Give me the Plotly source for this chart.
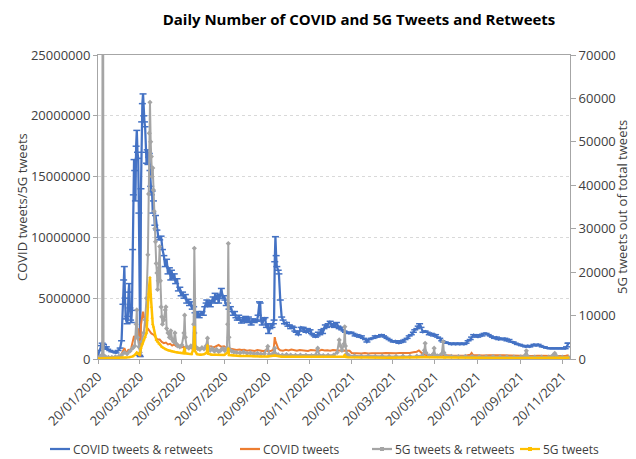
import pandas as pd
import plotly.graph_objects as go

START = "2020-01-20"

# ---- COVID tweets & retweets (left axis) : day offset from START, value
blue_days = [0,2,4,6,8,10,12,14,17,20,23,26,29,32,34,36,37,38,39,40,42,43,44,45,46,47,48,49,50,51,52,53,54,55,56,57,58,59,60,61,62,63,64,65,66,67,68,69,70,71,72,73,74,75,76,77,78,79,80,82,83,85,87,89,91,93,95,97,99,101,103,105,106,108,110,112,114,116,118,120,122,124,126,128,130,132,134,136,138,140,142,144,146,148,150,152,154,156,157,159,161,162,164,166,168,169,171,173,174,176,178,180,182,183,185,187,189,191,193,195,197,199,201,203,205,207,209,211,213,215,217,219,221,223,225,227,229,231,233,234,235,237,239,241,243,245,246,248,250,251,253,254,255,256,257,258,260,261,263,265,267,269,272,274,276,278,280,282,284,286,289,291,293,295,296,298,300,302,304,306,308,310,312,314,316,318,320,322,324,326,328,330,332,335,337,339,341,344,346,348,350,352,355,357,359,362,365,368,371,374,377,380,383,386,388,391,394,397,400,403,406,409,412,414,417,420,423,426,429,431,434,437,440,443,446,449,452,455,457,460,462,464,466,469,472,475,478,481,484,487,490,493,496,498,501,504,507,510,513,516,519,522,525,528,531,534,537,539,542,545,548,551,554,557,560,563,566,569,572,575,578,581,584,587,590,593,596,599,602,605,608,611,614,617,620,623,626,629,632,635,638,641,644,647,650,653,656,659,662,665,668,671,674,676,678,679]
blue_vals = [0.3e6,0.7e6,1.1e6,1.3e6,1.2e6,0.9e6,1.0e6,0.8e6,0.7e6,0.6e6,0.6e6,0.5e6,0.7e6,0.9e6,1.5e6,4.5e6,6.5e6,7.6e6,5.0e6,3.3e6,2.9e6,3.5e6,5.5e6,6.2e6,4.2e6,3.2e6,3.0e6,4.0e6,9.0e6,13.5e6,16.4e6,15.5e6,13.0e6,17.5e6,18.8e6,17.0e6,16.5e6,12.0e6,0.3e6,0.2e6,14.0e6,19.5e6,21.0e6,21.8e6,20.0e6,19.5e6,19.1e6,17.0e6,16.1e6,17.2e6,16.0e6,16.6e6,16.9e6,15.5e6,14.2e6,13.5e6,13.8e6,12.0e6,13.0e6,11.0e6,11.8e6,10.6e6,10.0e6,9.8e6,10.1e6,9.0e6,8.5e6,7.6e6,8.2e6,7.0e6,7.5e6,6.5e6,7.3e6,6.6e6,7.0e6,6.2e6,6.6e6,5.6e6,5.9e6,5.2e6,5.5e6,5.0e6,5.3e6,4.6e6,4.9e6,4.4e6,4.7e6,4.1e6,4.3e6,3.8e6,3.5e6,3.9e6,3.4e6,3.7e6,3.9e6,3.6e6,4.3e6,4.6e6,4.85e6,4.4e6,4.7e6,4.3e6,4.8e6,5.1e6,4.6e6,5.4e6,4.9e6,5.2e6,4.6e6,5.3e6,5.8e6,5.0e6,5.2e6,4.85e6,4.4e6,4.6e6,4.1e6,4.3e6,3.9e6,3.6e6,3.9e6,3.4e6,3.2e6,3.6e6,3.2e6,2.96e6,3.4e6,3.1e6,3.5e6,3.0e6,3.45e6,3.1e6,2.8e6,3.3e6,3.0e6,3.2e6,3.1e6,3.6e6,4.7e6,4.6e6,3.2e6,2.8e6,3.3e6,3.4e6,2.6e6,2.9e6,2.1e6,2.5e6,2.8e6,2.6e6,2.9e6,3.2e6,8.0e6,10.06e6,8.5e6,7.6e6,7.3e6,7.0e6,4.85e6,3.45e6,3.2e6,2.9e6,3.0e6,2.7e6,2.8e6,2.5e6,2.7e6,2.6e6,2.3e6,2.2e6,2.0e6,2.3e6,2.6e6,2.5e6,2.6e6,2.3e6,2.2e6,2.5e6,2.3e6,2.4e6,2.1e6,2.0e6,1.9e6,1.8e6,1.9e6,2.2e6,2.0e6,2.4e6,2.1e6,2.5e6,2.8e6,2.6e6,2.9e6,3.1e6,2.7e6,2.9e6,2.6e6,3.0e6,2.7e6,2.5e6,2.6e6,2.4e6,2.3e6,2.2e6,2.2e6,2.1e6,2.2e6,2.1e6,1.9e6,2.0e6,1.8e6,1.9e6,1.7e6,1.6e6,1.4e6,1.6e6,1.7e6,1.7e6,1.9e6,1.8e6,1.9e6,2.0e6,1.9e6,1.8e6,1.7e6,1.6e6,1.5e6,1.4e6,1.5e6,1.4e6,1.3e6,1.5e6,1.4e6,1.6e6,1.7e6,1.9e6,2.0e6,2.2e6,2.4e6,2.5e6,2.7e6,2.9e6,2.6e6,2.2e6,2.3e6,2.2e6,2.0e6,2.1e6,1.9e6,2.0e6,1.8e6,1.7e6,1.5e6,1.4e6,1.4e6,1.3e6,1.3e6,1.2e6,1.3e6,1.2e6,1.3e6,1.2e6,1.3e6,1.2e6,1.3e6,1.5e6,1.6e6,1.8e6,2.0e6,1.9e6,1.8e6,2.0e6,1.9e6,2.1e6,2.1e6,2.0e6,1.9e6,1.8e6,1.7e6,1.8e6,1.6e6,1.7e6,1.6e6,1.7e6,1.5e6,1.6e6,1.4e6,1.4e6,1.3e6,1.2e6,1.2e6,1.1e6,1.1e6,1.0e6,1.1e6,1.0e6,1.1e6,1.2e6,1.1e6,1.2e6,1.1e6,1.0e6,1.0e6,0.9e6,0.9e6,0.85e6,0.9e6,0.85e6,0.9e6,0.85e6,0.9e6,0.85e6,0.85e6,1.0e6,1.3e6,1.3e6]

# ---- COVID tweets (left axis)
orange_days = [0,5,10,15,20,25,30,33,36,38,40,42,44,46,48,50,52,54,56,58,60,61,62,64,65,66,68,70,72,74,77,80,83,86,89,92,95,98,101,104,107,110,113,116,120,124,128,132,136,140,144,148,152,156,159,163,167,171,174,178,182,186,188,192,196,200,204,207,211,215,219,222,226,230,234,238,242,246,250,253,254,255,256,258,260,263,267,271,275,279,283,287,291,295,299,303,307,311,315,319,323,327,331,335,339,343,347,351,355,359,363,366,370,375,380,385,390,395,400,405,410,415,420,425,430,435,440,445,450,455,460,463,465,468,472,476,480,485,490,495,500,510,520,530,537,539,541,545,555,565,575,585,595,605,615,625,635,645,655,665,675,679]
orange_vals = [0.05e6,0.1e6,0.1e6,0.1e6,0.1e6,0.1e6,0.15e6,0.3e6,0.7e6,0.9e6,0.6e6,0.5e6,0.8e6,0.6e6,0.9e6,1.4e6,1.9e6,1.6e6,2.4e6,2.5e6,0.8e6,0.2e6,2.8e6,3.6e6,3.9e6,3.6e6,3.0e6,2.6e6,2.5e6,2.3e6,2.1e6,2.0e6,1.8e6,1.6e6,1.6e6,1.4e6,1.3e6,1.35e6,1.2e6,1.25e6,1.1e6,1.2e6,1.05e6,1.15e6,0.95e6,1.0e6,0.9e6,0.95e6,0.85e6,0.88e6,0.8e6,0.85e6,0.9e6,0.95e6,1.0e6,1.05e6,0.95e6,1.1e6,1.15e6,1.0e6,1.05e6,0.9e6,0.88e6,0.8e6,0.8e6,0.75e6,0.78e6,0.74e6,0.76e6,0.68e6,0.72e6,0.7e6,0.66e6,0.74e6,0.7e6,0.65e6,0.72e6,0.62e6,0.68e6,0.75e6,1.1e6,1.8e6,1.5e6,1.1e6,0.85e6,0.72e6,0.68e6,0.75e6,0.7e6,0.78e6,0.72e6,0.68e6,0.74e6,0.7e6,0.72e6,0.66e6,0.74e6,0.7e6,0.72e6,0.68e6,0.75e6,0.7e6,0.72e6,0.68e6,0.74e6,0.7e6,0.72e6,0.68e6,0.7e6,0.72e6,0.68e6,0.5e6,0.48e6,0.5e6,0.46e6,0.5e6,0.45e6,0.48e6,0.46e6,0.5e6,0.47e6,0.5e6,0.48e6,0.5e6,0.47e6,0.5e6,0.48e6,0.52e6,0.5e6,0.55e6,0.6e6,0.7e6,0.6e6,0.45e6,0.35e6,0.3e6,0.32e6,0.28e6,0.3e6,0.27e6,0.3e6,0.28e6,0.3e6,0.27e6,0.35e6,0.5e6,0.32e6,0.3e6,0.28e6,0.3e6,0.27e6,0.3e6,0.28e6,0.25e6,0.27e6,0.25e6,0.27e6,0.24e6,0.25e6,0.24e6,0.26e6,0.3e6]

# ---- 5G tweets & retweets (right axis)
grey_days = [0,3,6,7,8,11,15,20,25,30,34,38,42,46,50,53,55,56,57,59,61,63,66,68,70,72,73,74,75,76,77,78,79,80,81,82,83,84,85,86,87,88,89,90,91,92,93,95,97,98,99,101,103,105,107,109,111,113,115,118,121,124,125,126,128,131,134,137,138,139,140,141,144,147,150,153,156,158,159,162,165,168,171,174,177,180,183,186,187,188,189,190,193,196,200,205,210,215,220,225,230,235,240,245,247,251,254,255,256,260,266,272,278,285,292,300,308,314,317,319,325,332,340,345,348,350,352,355,356,357,359,362,370,380,390,400,410,420,430,440,450,460,468,471,472,473,478,484,485,486,490,496,498,499,502,510,520,530,540,550,560,570,580,590,600,610,616,618,620,630,640,650,656,659,662,670,679]
grey_vals = [300,500,1000,150000,800,500,400,400,500,600,900,1500,1200,1800,2500,3000,8000,11300,5000,2800,1500,4000,6000,9000,14000,24000,38000,52000,59100,50000,46600,42000,44000,38900,34000,30000,27000,22000,19800,16000,18000,21000,25900,18000,12000,9700,8000,9000,11300,12000,7000,6000,5000,6500,4500,4000,6000,3500,3000,2800,3200,6000,10100,5000,2800,2500,3000,2600,8000,25500,6000,2800,2400,2200,2600,2300,3000,4800,2800,2000,2400,1800,2200,1700,2000,2400,1900,2600,8000,26600,5000,2200,1800,1600,1500,1400,1600,1300,1400,1200,1300,1100,1200,2900,1100,1000,1500,2500,1200,1000,900,1000,900,850,900,850,800,900,2500,900,800,850,900,1500,4400,3000,2000,3500,7400,3000,1200,800,700,650,700,600,650,600,600,650,600,650,800,2000,3600,1500,700,1200,2500,1000,700,1200,4000,1500,700,600,550,600,550,550,500,550,500,500,450,500,800,1900,600,450,450,450,800,1300,600,450,400]

# ---- 5G tweets (right axis)
yellow_days = [0,10,20,30,36,40,45,50,53,56,58,60,62,64,66,68,70,71,72,73,74,75,76,77,78,79,80,82,84,86,88,90,92,95,98,101,104,107,111,115,119,123,125,126,130,135,138,139,140,143,148,153,157,158,159,164,170,176,182,187,188,189,195,205,215,225,235,245,255,265,280,300,320,340,355,356,357,360,380,420,470,500,550,600,650,679]
yellow_vals = [100,150,150,200,300,300,400,600,900,1500,1200,900,2500,3500,4400,5000,6000,9000,13600,15000,17000,18800,15000,12000,9500,8000,7400,5500,4400,4000,3500,3200,2800,2500,2200,2000,1900,1700,1600,1500,1400,1300,2500,1300,1200,1100,2500,7400,1800,1100,1000,1100,1500,3200,1200,1000,1000,900,900,1500,2500,900,800,700,700,600,600,600,800,500,500,450,450,450,600,1000,500,400,350,300,400,300,300,250,250,300]

x_tick_dates = ["2020-01-20","2020-03-20","2020-05-20","2020-07-20","2020-09-20","2020-11-20",
                "2021-01-20","2021-03-20","2021-05-20","2021-07-20","2021-09-20","2021-11-20"]
x_tick_labels = ["20/01/2020","20/03/2020","20/05/2020","20/07/2020","20/09/2020","20/11/2020",
                 "20/01/2021","20/03/2021","20/05/2021","20/07/2021","20/09/2021","20/11/2021"]

series_names = ["COVID tweets & retweets", "COVID tweets", "5G tweets & retweets", "5G tweets"]
series_colors = ["#4472C4", "#ED7D31", "#A5A5A5", "#FFC000"]

def to_dates(days):
    return pd.Timestamp(START) + pd.to_timedelta(days, unit="D")

FONT = "Open Sans, Noto Sans, sans-serif"
TXT = "#404040"

# figure / plot-area geometry (figure pixels; the page body adds an 8px offset)
W, H = 628, 451
ML, MR, MT, MB = 90, 66, 47, 100
PW, PH = W - ML - MR, H - MT - MB

def px_to_paper_x(px):
    return (px - ML) / PW

def px_to_paper_y(py):
    return (H - MB - py) / PH

fig = go.Figure()
fig.add_trace(go.Scatter(x=to_dates(blue_days), y=blue_vals, name=series_names[0],
                         mode="lines+markers", line=dict(color=series_colors[0], width=2.25),
                         marker=dict(symbol="line-ew-open", size=5, line=dict(width=1.5, color=series_colors[0])),
                         yaxis="y"))
fig.add_trace(go.Scatter(x=to_dates(orange_days), y=orange_vals, name=series_names[1],
                         mode="lines", line=dict(color=series_colors[1], width=2), yaxis="y"))
fig.add_trace(go.Scatter(x=to_dates(grey_days), y=grey_vals, name=series_names[2],
                         mode="lines+markers", line=dict(color=series_colors[2], width=2),
                         marker=dict(symbol="diamond", size=4, color=series_colors[2]),
                         yaxis="y2"))
fig.add_trace(go.Scatter(x=to_dates(yellow_days), y=yellow_vals, name=series_names[3],
                         mode="lines+markers", line=dict(color=series_colors[3], width=2.5),
                         marker=dict(symbol="triangle-up", size=3, color=series_colors[3]),
                         yaxis="y2"))

# hand-placed single-row legend (line sample + label) below the axis labels
legend_line_x0 = [42, 232, 364, 512]
legend_has_marker = [False, False, True, True]
LEG_Y = 441
shapes = []
annotations = []
for name, col, x0, mk in zip(series_names, series_colors, legend_line_x0, legend_has_marker):
    shapes.append(dict(type="line", xref="paper", yref="paper",
                       x0=px_to_paper_x(x0), x1=px_to_paper_x(x0 + 20),
                       y0=px_to_paper_y(LEG_Y), y1=px_to_paper_y(LEG_Y),
                       line=dict(color=col, width=2.25)))
    if mk:
        shapes.append(dict(type="rect", xref="paper", yref="paper",
                           x0=px_to_paper_x(x0 + 8), x1=px_to_paper_x(x0 + 12),
                           y0=px_to_paper_y(LEG_Y + 2), y1=px_to_paper_y(LEG_Y - 2),
                           line=dict(width=0), fillcolor=col))
    annotations.append(dict(text=name, xref="paper", yref="paper",
                            x=px_to_paper_x(x0 + 21), y=px_to_paper_y(LEG_Y),
                            xanchor="left", yanchor="middle", showarrow=False,
                            font=dict(size=12, color=TXT)))

annotations += [
    dict(text="COVID tweets/5G tweets", xref="paper", yref="paper",
         x=px_to_paper_x(14), y=0.5, xanchor="center", yanchor="middle", textangle=-90,
         showarrow=False, font=dict(size=13, color=TXT)),
    dict(text="5G tweets out of total tweets", xref="paper", yref="paper",
         x=px_to_paper_x(614), y=0.5, xanchor="center", yanchor="middle", textangle=-90,
         showarrow=False, font=dict(size=13, color=TXT)),
]

fig.update_layout(
    width=W, height=H,
    margin=dict(l=ML, r=MR, t=MT, b=MB, autoexpand=False),
    paper_bgcolor="white", plot_bgcolor="white",
    font=dict(family=FONT, size=13, color=TXT),
    showlegend=False,
    title=dict(text="<b>Daily Number of COVID and 5G Tweets and Retweets</b>",
               x=351 / W, xanchor="center", y=1 - 12 / H, yanchor="middle",
               xref="container", yref="container",
               font=dict(family=FONT, size=15, color="#000000")),
    xaxis=dict(type="date", range=["2020-01-20", "2021-12-01"], automargin=False,
               tickvals=x_tick_dates, ticktext=x_tick_labels, tickangle=-45,
               ticks="outside", ticklen=4, tickcolor="#A6A6A6",
               showline=True, linecolor="#A6A6A6", linewidth=1, mirror=True,
               showgrid=False, zeroline=False, tickfont=dict(size=13, color=TXT)),
    yaxis=dict(range=[0, 25000000], dtick=5000000, tickformat="d", automargin=False,
               ticks="outside", ticklen=4, tickcolor="#A6A6A6",
               showline=True, linecolor="#A6A6A6", linewidth=1,
               showgrid=True, gridcolor="#D9D9D9", griddash="dot", zeroline=False,
               tickfont=dict(size=13, color=TXT)),
    yaxis2=dict(range=[0, 70000], dtick=10000, tickformat="d", overlaying="y", side="right",
                automargin=False,
                ticks="outside", ticklen=5, tickcolor="#A6A6A6",
                showline=True, linecolor="#A6A6A6", linewidth=1,
                showgrid=False, zeroline=False, tickfont=dict(size=13, color=TXT)),
    shapes=shapes,
    annotations=annotations,
)

fig.write_html("out.html")
